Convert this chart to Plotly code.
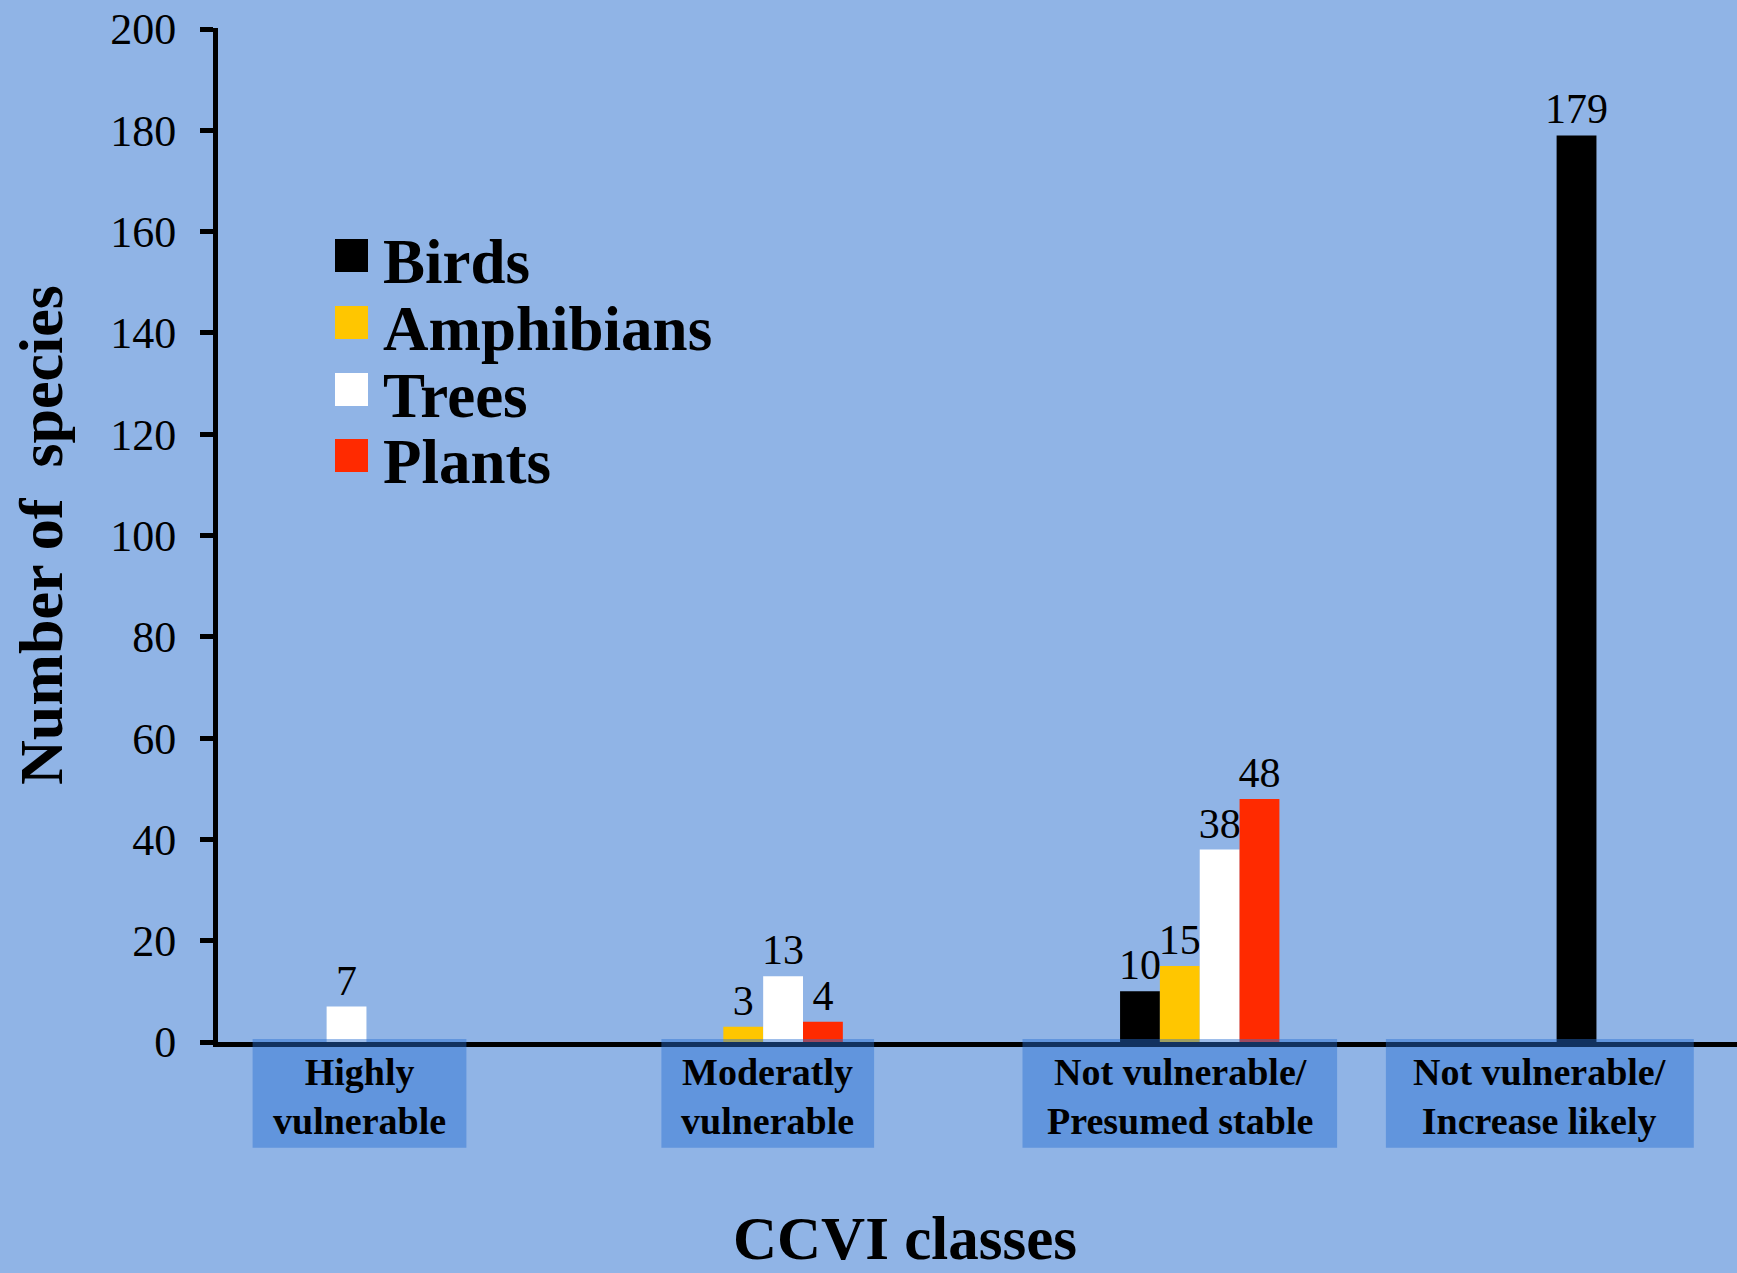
import plotly.graph_objects as go

# ---------------- data ----------------
categories = ["Highly vulnerable", "Moderatly vulnerable",
              "Not vulnerable/ Presumed stable", "Not vulnerable/ Increase likely"]
category_labels = ["Highly<br>vulnerable", "Moderatly<br>vulnerable",
                   "Not vulnerable/<br>Presumed stable", "Not vulnerable/<br>Increase likely"]
series_names = ["Birds", "Amphibians", "Trees", "Plants"]
birds = [None, None, 10, 179]
amphibians = [None, 3, 15, None]
trees = [7, 13, 38, None]
plants = [None, 4, 48, None]
y_tick_values = [0, 20, 40, 60, 80, 100, 120, 140, 160, 180, 200]
x_title = "CCVI classes"
y_title = "Number of  species"

# ---------------- styles ----------------
series_values = [birds, amphibians, trees, plants]
colors = ["#000000", "#ffc600", "#ffffff", "#ff2a00"]
FONT = "Liberation Serif, Times New Roman, serif"
BG = "#90b4e6"

W, H = 1737, 1273
ML, MR, MT, MB = 218, 0, 28, 231
X_RANGE = [-0.2488, 3.2307]
Y_RANGE = [0, 200.2]
plot_w = W - ML - MR
plot_h = H - MT - MB


def pap_x(px):
    return (px - ML) / plot_w


def pap_y(py):
    return (H - MB - py) / plot_h


fig = go.Figure()
for name, vals, col in zip(series_names, series_values, colors):
    fig.add_trace(go.Bar(
        name=name, x=categories, y=vals,
        marker=dict(color=col, line=dict(width=0)),
        text=[("" if v is None else str(v)) for v in vals],
        textposition="outside",
        constraintext="none",
        textfont=dict(family=FONT, size=42, color="#000000"),
        cliponaxis=False,
        showlegend=False,
    ))

shapes = []
annotations = []

# category label boxes (pixel extents in the picture)
box_px = [(252.6, 466.4), (661.4, 874.1), (1022.5, 1337.1), (1385.9, 1693.8)]
box_top, box_bot = 1039.1, 1147.7
for (x0, x1), lab in zip(box_px, category_labels):
    shapes.append(dict(type="rect", xref="paper", yref="paper",
                       x0=pap_x(x0), x1=pap_x(x1), y0=pap_y(box_bot), y1=pap_y(box_top),
                       fillcolor="rgba(40,110,210,0.45)", line=dict(width=0),
                       layer="above"))
    annotations.append(dict(xref="paper", yref="paper", x=pap_x((x0 + x1) / 2), y=pap_y(1096),
                            text=lab, showarrow=False, xanchor="center", yanchor="middle",
                            font=dict(family=FONT, size=38, color="#000000", weight="bold")))

# manual legend (large square swatches)
sq_left, sq_size = 335, 33
row_tops = [239, 306, 373, 439]
for name, col, top in zip(series_names, colors, row_tops):
    shapes.append(dict(type="rect", xref="paper", yref="paper",
                       x0=pap_x(sq_left), x1=pap_x(sq_left + sq_size),
                       y0=pap_y(top + sq_size), y1=pap_y(top),
                       fillcolor=col, line=dict(width=0), layer="above"))
    annotations.append(dict(xref="paper", yref="paper", x=pap_x(381), y=pap_y(top + sq_size / 2 + 6),
                            text=name, showarrow=False, xanchor="left", yanchor="middle",
                            font=dict(family=FONT, size=63, color="#000000", weight="bold")))

# x-axis title
annotations.append(dict(xref="paper", yref="paper", x=pap_x(905), y=pap_y(1238),
                        text=x_title, showarrow=False, xanchor="center", yanchor="middle",
                        font=dict(family=FONT, size=61, color="#000000", weight="bold")))

fig.update_layout(
    width=W, height=H,
    margin=dict(l=ML, r=MR, t=MT, b=MB, pad=0),
    paper_bgcolor=BG, plot_bgcolor=BG,
    barmode="group", bargap=0.635, bargroupgap=0,
    font=dict(family=FONT, color="#000000"),
    shapes=shapes, annotations=annotations,
    showlegend=False,
)
fig.update_xaxes(
    type="category", range=X_RANGE, showgrid=False, zeroline=False,
    showline=True, linecolor="#000000", linewidth=5,
    showticklabels=False, ticks="",
    automargin=False, fixedrange=True,
)
fig.update_yaxes(
    range=Y_RANGE, tickmode="array", tickvals=y_tick_values,
    ticktext=[str(v) for v in y_tick_values],
    ticklabeloverflow="allow",
    showgrid=False, zeroline=False,
    showline=True, linecolor="#000000", linewidth=5,
    ticks="outside", ticklen=13, tickwidth=5, tickcolor="#000000",
    tickfont=dict(family=FONT, size=44, color="#000000"),
    ticklabelstandoff=15,
    title=dict(text="<b>" + y_title + "</b>", font=dict(family=FONT, size=62, color="#000000"),
               standoff=29),
    automargin=False, fixedrange=True,
)

fig.write_html("out.html", config={"displayModeBar": False},
               post_script="document.body.style.margin='0';document.body.style.overflow='hidden';")
